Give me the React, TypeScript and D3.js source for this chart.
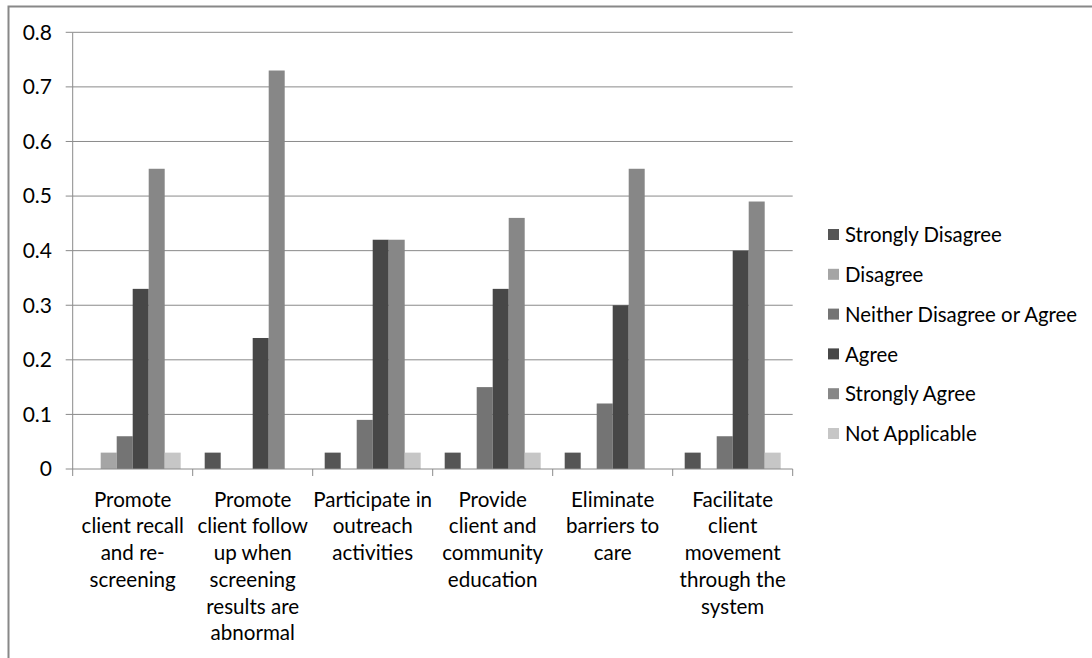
import React from "react";
import * as d3 from "d3";

const categories: string[][] = [
  ["Promote", "client recall", "and re-", "screening"],
  ["Promote", "client follow", "up when", "screening", "results are", "abnormal"],
  ["Participate in", "outreach", "activities"],
  ["Provide", "client and", "community", "education"],
  ["Eliminate", "barriers to", "care"],
  ["Facilitate", "client", "movement", "through the", "system"],
];
const seriesNames = [
  "Strongly Disagree",
  "Disagree",
  "Neither Disagree or Agree",
  "Agree",
  "Strongly Agree",
  "Not Applicable",
];
const seriesColors = ["#555555", "#a5a5a5", "#747474", "#474747", "#878787", "#c6c6c6"];
const stronglyDisagree = [0, 0.03, 0.03, 0.03, 0.03, 0.03];
const disagree = [0.03, 0, 0, 0, 0, 0];
const neither = [0.06, 0, 0.09, 0.15, 0.12, 0.06];
const agree = [0.33, 0.24, 0.42, 0.33, 0.3, 0.4];
const stronglyAgree = [0.55, 0.73, 0.42, 0.46, 0.55, 0.49];
const notApplicable = [0.03, 0, 0.03, 0.03, 0, 0.03];
const yTicks = [0, 0.1, 0.2, 0.3, 0.4, 0.5, 0.6, 0.7, 0.8];

const seriesValues = [stronglyDisagree, disagree, neither, agree, stronglyAgree, notApplicable];

const FONT = "Lato, 'Open Sans', sans-serif";

export default function App() {
  const left = 72.7;
  const right = 792.7;
  const top = 32.3;
  const bottom = 469;
  const x0 = d3
    .scaleBand<number>()
    .domain(categories.map((_, i) => i))
    .range([left, right])
    .paddingInner(0)
    .paddingOuter(0);
  const x1 = d3
    .scaleBand<number>()
    .domain(seriesNames.map((_, i) => i))
    .range([0, x0.bandwidth()])
    .paddingOuter(0.75)
    .paddingInner(0);
  const y = d3.scaleLinear().domain([0, 0.8]).range([bottom, top]);
  const gridColor = "#8a8a8a";
  const legendY = d3.scalePoint<number>().domain(seriesNames.map((_, i) => i)).range([235, 434]);

  return (
    <svg
      width={1092}
      height={658}
      style={{ position: "absolute", left: 0, top: 0, background: "#fff" }}
      fontFamily={FONT}
    >
      <rect x={0} y={0} width={1092} height={658} fill="#fff" />
      <rect x={8.5} y={6.5} width={1200} height={800} fill="none" stroke="#888" strokeWidth={2} />
      {/* gridlines */}
      {yTicks.map((t) => (
        <g key={t}>
          {t > 0 && (
            <line x1={left} x2={right} y1={y(t)} y2={y(t)} stroke={gridColor} strokeWidth={1} />
          )}
          <line x1={left - 7} x2={left} y1={y(t)} y2={y(t)} stroke={gridColor} strokeWidth={1} />
          <text x={52} y={y(t)} dy="0.35em" textAnchor="end" fontSize={21} fill="#000">
            {String(t)}
          </text>
        </g>
      ))}
      {/* bars */}
      {categories.map((_, ci) => (
        <g key={ci} transform={`translate(${x0(ci)},0)`}>
          {seriesValues.map((vals, si) =>
            vals[ci] > 0 ? (
              <rect
                key={si}
                x={x1(si)}
                width={x1.bandwidth()}
                y={y(vals[ci])}
                height={bottom - y(vals[ci])}
                fill={seriesColors[si]}
              />
            ) : null
          )}
        </g>
      ))}
      {/* axes */}
      <line x1={left} x2={left} y1={top} y2={bottom + 7} stroke={gridColor} strokeWidth={1} />
      <line x1={left} x2={right} y1={bottom} y2={bottom} stroke={gridColor} strokeWidth={1} />
      {categories.map((_, ci) => (
        <line
          key={ci}
          x1={(x0(ci) as number) + x0.bandwidth()}
          x2={(x0(ci) as number) + x0.bandwidth()}
          y1={bottom}
          y2={bottom + 7}
          stroke={gridColor}
          strokeWidth={1}
        />
      ))}
      {/* category labels */}
      {categories.map((lines, ci) => (
        <text
          key={ci}
          x={(x0(ci) as number) + x0.bandwidth() / 2}
          y={506.7}
          textAnchor="middle"
          fontSize={20.6}
          fill="#000"
        >
          {lines.map((l, li) => (
            <tspan key={li} x={(x0(ci) as number) + x0.bandwidth() / 2} y={506.7 + li * 26.7}>
              {l}
            </tspan>
          ))}
        </text>
      ))}
      {/* legend */}
      {seriesNames.map((name, si) => (
        <g key={si} transform={`translate(0,${legendY(si)})`}>
          <rect x={828} y={-6} width={11} height={11} fill={seriesColors[si]} />
          <text x={845} dy="0.35em" fontSize={20.4} fill="#000">
            {name}
          </text>
        </g>
      ))}
    </svg>
  );
}
